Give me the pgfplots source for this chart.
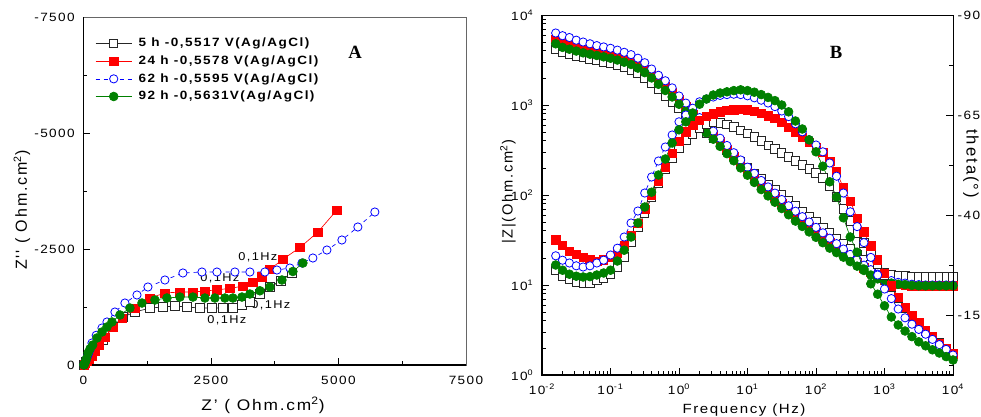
\documentclass[border=0pt]{standalone}
\usepackage{fontspec}
\setmainfont{Liberation Sans}[FakeStretch=1.13, LetterSpace=12]
\newfontfamily\rotsans{Liberation Sans}[LetterSpace=12]
\newfontfamily\capserif{Liberation Serif}
\usepackage{pgfplots}
\usepackage{pgfplotstable}
\pgfplotsset{compat=1.18}

\definecolor{zgreen}{RGB}{0,128,0}

% Bode data: f (Hz), |Z| (Ohm.cm2) and phase (deg) for each immersion time
\pgfplotstableread{
f        z5    p5     z24   p24    z62   p62    z92   p92
1.585e-2 4170  -26.2  5370  -33.8  6310  -29.8  4790  -27.5
1.995e-2 3890  -24.7  4900  -32.5  5890  -28.7  4370  -26.2
2.512e-2 3670  -23.9  4570  -31.0  5620  -28.0  4170  -25.2
3.162e-2 3510  -23.3  4320  -30.2  5250  -27.3  3980  -24.7
3.981e-2 3350  -23.0  4120  -29.4  5010  -27.0  3800  -24.5
5.012e-2 3240  -23.0  3980  -28.8  4790  -27.3  3670  -24.6
6.310e-2 3130  -23.6  3850  -28.5  4570  -28.0  3550  -25.0
7.943e-2 3020  -24.2  3720  -28.8  4420  -28.7  3430  -25.5
1e-1     2920  -25.3  3590  -29.5  4270  -30.0  3310  -26.2
1.259e-1 2790  -27.0  3430  -30.5  4070  -31.7  3160  -28.5
1.585e-1 2630  -29.5  3240  -32.5  3850  -34.5  2990  -31.2
1.995e-1 2450  -33.3  3050  -35.0  3630  -38.0  2820  -34.5
2.512e-1 2240  -37.0  2820  -38.0  3310  -41.0  2570  -38.0
3.162e-1 2000  -40.5  2510  -41.5  2950  -45.5  2290  -42.0
3.981e-1 1740  -44.5  2210  -45.0  2510  -49.5  2000  -45.7
5.012e-1 1480  -48.0  1910  -48.5  2140  -53.5  1700  -50.0
6.310e-1 1260  -51.5  1620  -52.0  1860  -57.0  1450  -54.0
7.943e-1 1070  -54.3  1380  -55.5  1550  -60.0  1230  -58.0
1        912   -56.8  1150  -58.5  1260  -63.3  1020  -61.3
1.259    776   -58.8  955   -60.8  1050  -65.0  851   -63.3
1.585    661   -60.3  794   -62.5  871   -66.7  708   -65.5
1.995    562   -61.7  661   -63.7  724   -68.3  589   -67.7
2.512    490   -62.8  550   -64.6  603   -69.0  490   -69.0
3.162    427   -63.2  468   -65.3  513   -69.5  417   -70.0
3.981    363   -63.0  389   -65.8  427   -69.9  347   -70.5
5.012    316   -62.6  324   -66.1  355   -70.1  288   -70.8
6.310    269   -62.0  269   -66.3  295   -70.2  240   -71.1
7.943    234   -61.2  224   -66.4  245   -70.1  200   -71.3
10       200   -60.4  186   -66.3  204   -69.8  166   -71.1
12.59    174   -59.5  155   -66.0  174   -69.3  138   -70.7
15.85    151   -58.5  132   -65.5  145   -68.7  115   -70.1
19.95    132   -57.4  112   -64.8  123   -68.0  97.7  -69.4
25.12    115   -56.5  95.5  -64.1  105   -67.1  83.2  -68.6
31.62    100   -55.5  81.3  -63.1  89.1  -66.0  70.8  -67.5
39.81    87.1  -54.5  69.2  -62.0  75.9  -64.6  60.3  -65.8
50.12    75.9  -53.5  59.6  -60.8  66.1  -62.8  51.3  -63.5
63.10    66.1  -52.5  51.3  -59.5  57.5  -60.8  44.7  -61.5
79.43    57.5  -51.5  44.7  -58.2  50.1  -58.8  38.9  -58.8
100      50.1  -50.5  38.9  -56.9  43.7  -57.5  33.9  -55.8
125.9    43.7  -49.3  33.9  -55.6  38.0  -55.8  29.5  -52.2
158.5    38.0  -47.3  29.5  -53.5  33.1  -53.0  25.7  -48.3
199.5    33.1  -44.5  25.7  -50.8  28.8  -49.7  22.9  -44.5
251.2    28.8  -41.5  22.6  -46.8  25.1  -45.5  20.4  -39.3
316.2    25.1  -38.5  20.0  -43.5  21.9  -40.8  18.2  -34.5
398.1    21.9  -35.5  17.6  -39.2  19.1  -37.1  16.2  -30.7
501.2    19.1  -33.0  15.5  -35.8  16.6  -33.1  14.5  -26.5
631.0    17.0  -30.5  13.8  -32.3  14.8  -29.4  12.9  -22.8
794.3    15.1  -27.8  12.3  -28.8  13.2  -25.0  11.7  -20.2
1000     13.8  -25.0  11.2  -25.5  12.0  -21.5  11.0  -17.3
1259     13.2  -22.0  10.5  -22.3  11.2  -19.1  10.5  -14.5
1585     12.7  -19.2  10.1  -19.4  10.7  -16.5  10.2  -12.5
1995     12.6  -16.8  10.0  -16.9  10.5  -14.3  10.1  -11.0
2512     12.3  -14.8  9.8   -15.0  10.2  -12.7  9.9   -9.6
3162     12.3  -12.9  9.8   -13.1  10.1  -11.4  9.8   -8.3
3981     12.3  -11.0  9.8   -11.1  10.0  -10.2  9.8   -7.3
5012     12.3  -9.5   9.8   -9.6   10.0  -8.9   9.8   -6.3
6310     12.3  -8.0   9.8   -8.0   10.0  -7.6   9.8   -5.5
7943     12.3  -6.6   9.8   -6.7   10.0  -6.4   9.8   -4.6
10000    12.3  -5.4   9.8   -5.3   10.0  -5.0   9.8   -3.75
}\bode

\pgfplotsset{
  eis/.style={
    scale only axis, clip=false,
    tick align=inside,
    major tick length=5pt, minor tick length=3pt,
    every tick/.style={black, line width=0.6pt},
    tick label style={font=\fontsize{9}{10}\selectfont},
    axis line style={line width=0.6pt},
  },
  s5/.style={black!85, line width=0.5pt, mark=square*, mark size=3.1pt,
    mark options={solid, fill=white, draw=black!85, line width=0.6pt}},
  s24/.style={red, line width=0.5pt, mark=square*, mark size=3.1pt,
    mark options={solid, fill=red, draw=red}},
  s62/.style={blue, line width=0.5pt, dashed, mark=*, mark size=3.1pt,
    mark options={solid, fill=white, draw=blue, line width=0.6pt}},
  s92/.style={zgreen, line width=0.5pt, mark=*, mark size=3.3pt,
    mark options={solid, fill=zgreen, draw=zgreen}},
}

\begin{document}
\begin{tikzpicture}
\useasboundingbox (0,0) rectangle (735.75pt,312.75pt);

% ---- A: Nyquist ----
\begin{axis}[eis,
  at={(62.6pt,39pt)}, anchor=south west,
  width=286.9pt, height=261pt,
  xmin=0, xmax=7500, ymin=-7500, ymax=0, y dir=reverse,
  xtick={0,2500,5000,7500}, xticklabels={0,2500,5000,7500},
  minor xtick={1250,3750,6250},
  ytick={-7500,-5000,-2500,0}, yticklabels={-7500,-5000,-2500,0},
  minor ytick={-6250,-3750,-1250},
  xtick pos=bottom, ytick pos=left,
  xticklabel style={yshift=-5pt},
  yticklabel style={xshift=-3pt},
  axis line style={line width=0.6pt, black!60},
  legend cell align=left,
  legend style={at={(0.02,0.955)}, anchor=north west, draw=none, fill=none,
    font=\fontsize{9}{10.5}\selectfont\bfseries, row sep=1.2pt, column sep=3pt},
  legend image code/.code={\draw[mark repeat=2, mark phase=2, #1]
    plot coordinates {(0pt,0pt) (13.5pt,0pt) (27pt,0pt)};},
]
\draw[line width=1.1pt] (rel axis cs:0,1) -- (rel axis cs:0,0) -- (rel axis cs:1,0);

\addplot[s5] coordinates {
(10,-1) (13,-6) (20,-18) (32,-40) (50,-80) (80,-140) (120,-220) (180,-320)
(260,-420) (382,-539) (578,-819) (774,-1034) (1009,-1142) (1303,-1228)
(1558,-1250) (1793,-1271) (2029,-1250) (2283,-1228) (2519,-1228) (2734,-1228)
(2930,-1228) (3107,-1293) (3263,-1358) (3459,-1530) (3655,-1681) (3871,-1810)
(4087,-1983)};
\addlegendentry{5 h -0,5517 V(Ag/AgCl)}

\addplot[s24] coordinates {
(10,-1) (14,-6) (22,-18) (40,-40) (70,-75) (110,-125) (165,-200) (230,-300)
(310,-430) (421,-603) (578,-819) (755,-1013) (1009,-1228) (1303,-1444)
(1597,-1552) (1891,-1573) (2146,-1573) (2381,-1595) (2617,-1620) (2871,-1650)
(3126,-1700) (3322,-1780) (3499,-1900) (3655,-2060) (3910,-2280) (4243,-2530)
(4596,-2866) (4969,-3340)};
\addlegendentry{24 h -0,5578 V(Ag/AgCl)}

\addplot[s62] coordinates {
(10,-1) (11,-5) (14,-14) (20,-30) (30,-55) (45,-95) (65,-150) (95,-230)
(130,-330) (167,-474) (250,-640) (363,-797) (461,-927) (617,-1142) (813,-1336)
(1049,-1509) (1264,-1681) (1597,-1832) (1950,-1983) (2323,-2004) (2617,-2004)
(2969,-2004) (3263,-2004) (3557,-2004) (3793,-2047) (4047,-2090) (4283,-2198)
(4498,-2306) (4773,-2478) (5067,-2694) (5380,-2974) (5713,-3297)};
\addlegendentry{62 h -0,5595 V(Ag/AgCl)}

\addplot[s92] coordinates {
(10,-1) (12,-6) (16,-18) (25,-40) (40,-80) (60,-140) (90,-260) (130,-350)
(180,-430) (265,-582) (363,-711) (461,-819) (559,-927) (715,-1078) (911,-1228)
(1147,-1336) (1401,-1401) (1637,-1444) (1891,-1465) (2146,-1465) (2381,-1444)
(2577,-1444) (2773,-1444) (2930,-1444) (3107,-1465) (3263,-1530) (3459,-1600)
(3655,-1681) (3891,-1832) (4106,-2015) (4302,-2198)};
\addlegendentry{92 h -0,5631V(Ag/AgCl)}

\begin{scope}[every node/.style={font=\fontsize{8.5}{9}\selectfont, inner sep=0pt}]
\node at (axis cs:3420,-2327) {0,1Hz};
\node at (axis cs:2675,-1875) {0,1Hz};
\node at (axis cs:3675,-1293) {0,1Hz};
\node at (axis cs:2813,-970) {0,1Hz};
\end{scope}
\end{axis}

% ---- B: Bode, |Z| ----
\begin{axis}[eis,
  at={(406.5pt,31.5pt)}, anchor=south west,
  width=308.25pt, height=270pt,
  xmode=log, ymode=log, log basis x=10, log basis y=10,
  xmin=1e-2, xmax=1e4, ymin=1, ymax=1e4,
  xtick pos=bottom, ytick pos=left,
  xticklabel={10\textsuperscript{\pgfmathparse{int(round(\tick))}\pgfmathresult}},
  yticklabel={10\textsuperscript{\pgfmathparse{int(round(\tick))}\pgfmathresult}},
  xticklabel style={yshift=-3pt},
  yticklabel style={xshift=-3pt},
]
\draw[line width=1.1pt] (rel axis cs:0,1) -- (rel axis cs:0,0) -- (rel axis cs:1,0);
\addplot[s5]  table[x=f, y=z5]  {\bode};
\addplot[s24] table[x=f, y=z24] {\bode};
\addplot[s62] table[x=f, y=z62] {\bode};
\addplot[s92] table[x=f, y=z92] {\bode};
\end{axis}

% ---- B: Bode, phase ----
\begin{axis}[eis,
  at={(406.5pt,31.5pt)}, anchor=south west,
  width=308.25pt, height=270pt,
  xmode=log, xmin=1e-2, xmax=1e4,
  ymin=-90, ymax=0, y dir=reverse,
  axis x line=none, axis y line*=right,
  ytick={-90,-65,-40,-15}, yticklabels={-90,-65,-40,-15},
  minor ytick={-77.5,-52.5,-27.5,-2.5},
]
\addplot[s5]  table[x=f, y=p5]  {\bode};
\addplot[s24] table[x=f, y=p24] {\bode};
\addplot[s62] table[x=f, y=p62] {\bode};
\addplot[s92] table[x=f, y=p92] {\bode};
\end{axis}

% ---- titles and labels ----
\node[font=\capserif\fontsize{14}{14}\selectfont\bfseries] at (266.25pt,273.75pt) {A};
\node[font=\capserif\fontsize{14}{14}\selectfont\bfseries] at (627pt,273.75pt) {B};
\node[font=\fontsize{11.5}{12}\selectfont] at (197.25pt,9pt) {Z' ( Ohm.cm\textsuperscript{2})};
\node[font=\fontsize{10}{12}\selectfont] at (558pt,5.25pt) {Frequency (Hz)};
\node[font=\rotsans\fontsize{12}{13}\selectfont, rotate=90] at (16.5pt,155.25pt) {Z'' ( Ohm.cm\textsuperscript{2})};
\node[font=\rotsans\fontsize{11}{12}\selectfont, rotate=90] at (381pt,168.75pt) {|Z|(Ohm.cm\textsuperscript{2})};
\node[font=\rotsans\fontsize{12.5}{13}\selectfont, rotate=-90] at (728.25pt,190pt) {theta(°)};
\end{tikzpicture}
\end{document}
